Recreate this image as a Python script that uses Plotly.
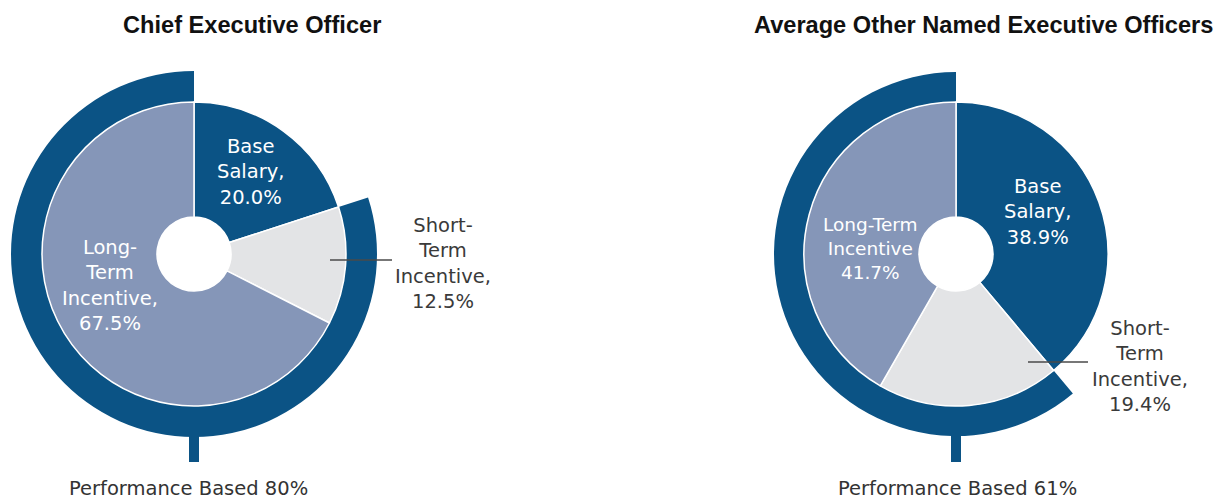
import plotly.graph_objects as go

# ---------------- data ----------------
components = ["Base Salary", "Short-Term Incentive", "Long-Term Incentive"]
ceo_values = [20.0, 12.5, 67.5]
neo_values = [38.9, 19.4, 41.7]
titles = ["Chief Executive Officer", "Average Other Named Executive Officers"]
ceo_label_lines = [["Base", "Salary,"], ["Short-", "Term", "Incentive,"], ["Long-", "Term", "Incentive,"]]
neo_label_lines = [["Base", "Salary,"], ["Short-", "Term", "Incentive,"], ["Long-Term", "Incentive"]]

# ---------------- styling / geometry ----------------
W, H = 1217, 495
DARK = "#0b5385"
LTI = "#8596b8"
STI = "#e3e4e6"
slice_colors = [DARK, STI, LTI]
FONT = "DejaVu Sans"

def px(x):
    return x / W

def py(y):
    return 1 - y / H

charts = [
    dict(values=ceo_values, lines=ceo_label_lines, cx=194, cy=254, R=183, r=152, hole=37,
         title_x=251.5,
         label_pos=[(250, 172, 19.5), (443, 263, 19.5), (110, 285, 19.5)],
         leader=(330, 392, 260)),
    dict(values=neo_values, lines=neo_label_lines, cx=956, cy=254, R=182, r=152, hole=37,
         title_x=983.5,
         label_pos=[(1037, 212, 19.5), (1140, 366, 19.5), (870, 248, 18.5)],
         leader=(1028, 1088, 362)),
]

fig = go.Figure()
annotations = []
shapes = []

for i, ch in enumerate(charts):
    vals = ch["values"]
    cx, cy, R, r = ch["cx"], ch["cy"], ch["R"], ch["r"]
    perf = sum(vals[1:])
    # outer "performance based" ring
    fig.add_trace(go.Pie(
        values=[vals[0], perf],
        labels=["Fixed", "Performance Based"],
        sort=False, direction="clockwise", rotation=0,
        hole=r / R,
        marker=dict(colors=["rgba(0,0,0,0)", DARK], line=dict(width=0)),
        textinfo="none", hoverinfo="skip", showlegend=False,
        domain=dict(x=[px(cx - R), px(cx + R)], y=[py(cy + R), py(cy - R)]),
    ))
    # inner pay mix pie
    fig.add_trace(go.Pie(
        values=vals, labels=components,
        sort=False, direction="clockwise", rotation=0,
        hole=ch["hole"] / r,
        marker=dict(colors=slice_colors, line=dict(color="white", width=1.5)),
        textinfo="none", hoverinfo="label+percent", showlegend=False,
        domain=dict(x=[px(cx - r), px(cx + r)], y=[py(cy + r), py(cy - r)]),
    ))
    # slice labels
    for j, (lx, ly, fs) in enumerate(ch["label_pos"]):
        text = "<br>".join(ch["lines"][j] + [f"{vals[j]:.1f}%"])
        color = "#3a3a3a" if j == 1 else "white"
        annotations.append(dict(
            x=px(lx), y=py(ly), xref="paper", yref="paper", text=text,
            showarrow=False, xanchor="center", yanchor="middle", align="center",
            font=dict(family=FONT, size=fs, color=color),
        ))
    # leader line for short-term incentive
    x0, x1, yl = ch["leader"]
    shapes.append(dict(type="line", xref="paper", yref="paper",
                       x0=px(x0), x1=px(x1), y0=py(yl), y1=py(yl),
                       line=dict(color="#4a4a4a", width=1.5)))
    # stem below the ring
    shapes.append(dict(type="rect", xref="paper", yref="paper",
                       x0=px(cx - 5), x1=px(cx + 5), y0=py(cy + R - 4), y1=py(462),
                       fillcolor=DARK, line=dict(width=0)))
    # performance based caption
    annotations.append(dict(
        x=px(cx - 6 if i == 0 else cx + 1), y=py(488), xref="paper", yref="paper",
        text=f"Performance Based {round(perf)}%",
        showarrow=False, xanchor="center", yanchor="middle",
        font=dict(family=FONT, size=19.5, color="#333333"),
    ))
    # title
    annotations.append(dict(
        x=px(ch["title_x"]), y=py(25), xref="paper", yref="paper",
        text=f"<b>{titles[i]}</b>", showarrow=False, xanchor="center", yanchor="middle",
        font=dict(family="Liberation Sans", size=23.6, color="#111111"),
    ))

fig.update_layout(
    width=W, height=H,
    margin=dict(l=0, r=0, t=0, b=0),
    paper_bgcolor="white", plot_bgcolor="white",
    annotations=annotations, shapes=shapes,
    showlegend=False,
)

fig.write_html("out.html", config={"displayModeBar": False},
               post_script="document.body.style.margin='0';document.body.style.overflow='hidden';")
